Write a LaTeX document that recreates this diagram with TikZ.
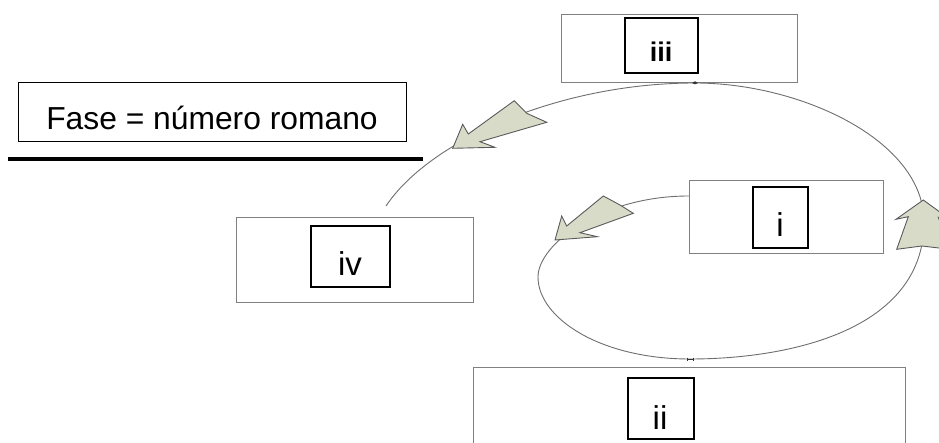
\documentclass[tikz,border=0pt]{standalone}
\usepackage{fontspec}
\setmainfont{Liberation Sans}
\definecolor{boxgray}{RGB}{128,128,128}
\definecolor{curvegray}{RGB}{110,110,110}
\definecolor{arrowfill}{RGB}{216,219,200}
\definecolor{arrowedge}{RGB}{90,90,90}
\begin{document}
\begin{tikzpicture}[x=1pt,y=-1pt,
  outerbox/.style={draw=boxgray, line width=1.3pt, inner sep=0pt, anchor=north west},
  innerbox/.style={draw=black, line width=1.7pt, inner sep=0pt, anchor=north west},
  legendbox/.style={draw=black, line width=1.4pt, inner sep=0pt, anchor=north west},
  lbl/.style={anchor=base, inner sep=0pt, font=\fontsize{33}{36}\selectfont},
  smalllbl/.style={anchor=base, inner sep=0pt, font=\bfseries\fontsize{27}{30}\selectfont},
  flow/.style={draw=curvegray, line width=0.9pt},
  blockarrow/.style={fill=arrowfill, draw=arrowedge, line width=0.9pt, line join=miter},
  curvemark/.style={fill=black!80}]
\useasboundingbox (0,0) rectangle (939,443);
\clip (0,0) rectangle (939,443);

% legend
\node[legendbox, minimum width=388pt, minimum height=59pt] (legend) at (18,82) {};
\node[anchor=base, inner sep=0pt, font=\fontsize{31.8}{34}\selectfont] (legendtxt) at (212,130) {Fase = número romano};
\coordinate (rulea) at (8,159);
\coordinate (ruleb) at (423,159);
\draw[line width=4pt] (rulea) -- (ruleb);

% box iii
\node[outerbox, minimum width=236pt, minimum height=68pt] (iiiout) at (561,14) {};
\node[innerbox, minimum width=73pt, minimum height=55pt] (iiiin) at (624,17) {};
\node[smalllbl] (iiilbl) at (661,62) {iii};

% box iv
\node[outerbox, minimum width=237pt, minimum height=85pt] (ivout) at (236,217) {};
\node[innerbox, minimum width=79pt, minimum height=61pt] (ivin) at (310,225) {};
\node[lbl] (ivlbl) at (350,276) {iv};

% box i
\node[outerbox, minimum width=194pt, minimum height=73pt] (iout) at (689,180) {};
\node[innerbox, minimum width=55pt, minimum height=61pt] (iin) at (752,186) {};
\node[lbl] (ilbl) at (780,237) {i};

% box ii
\node[outerbox, minimum width=432pt, minimum height=90pt] (iiout) at (473,367) {};
\node[innerbox, minimum width=66pt, minimum height=61pt] (iiin) at (627,377) {};
\node[lbl] (iilbl) at (660,429) {ii};

% flow curve
\coordinate (s) at (386,206);
\coordinate (top) at (695,83);
\coordinate (right) at (924,222);
\coordinate (bottom) at (690,359);
\coordinate (left) at (538,277);
\coordinate (e) at (689,196);
\draw[flow] (s) .. controls (430,140) and (560,83) .. (top)
  .. controls (800,83) and (924,140) .. (right)
  .. controls (924,330) and (790,359) .. (bottom)
  .. controls (600,359) and (538,318) .. (left)
  .. controls (538,245) and (600,196) .. (e);

% small marks on the curve
\fill[curvemark] (692,83) -- (695,81.3) -- (698,83) -- (695,84.3) -- cycle;
\draw[black!80, line width=0.8pt] (687,359) -- (693,359)
  (687,357.5) -- (687,360.5) (693,357.5) -- (693,360.5);

% block arrows
\draw[blockarrow] (452.7,148.3) -- (462.7,124.3) -- (468.3,134) -- (514.3,100.7)
  -- (526.7,113.3) -- (546.7,122.3) -- (480,141.7) -- (495,147.3) -- cycle;
\draw[blockarrow] (555,240) -- (561.7,216) -- (566.7,226) -- (603.3,196)
  -- (620,205) -- (633.3,213.3) -- (580,232.7) -- (597.3,236.7) -- cycle;
\draw[blockarrow] (923.3,200) -- (896,219.3) -- (908.3,216.7) -- (896.7,249.3)
  -- (921.7,246) -- (950,249.3) -- (938.3,217.3) -- (950.7,220) -- cycle;
\end{tikzpicture}
\end{document}
